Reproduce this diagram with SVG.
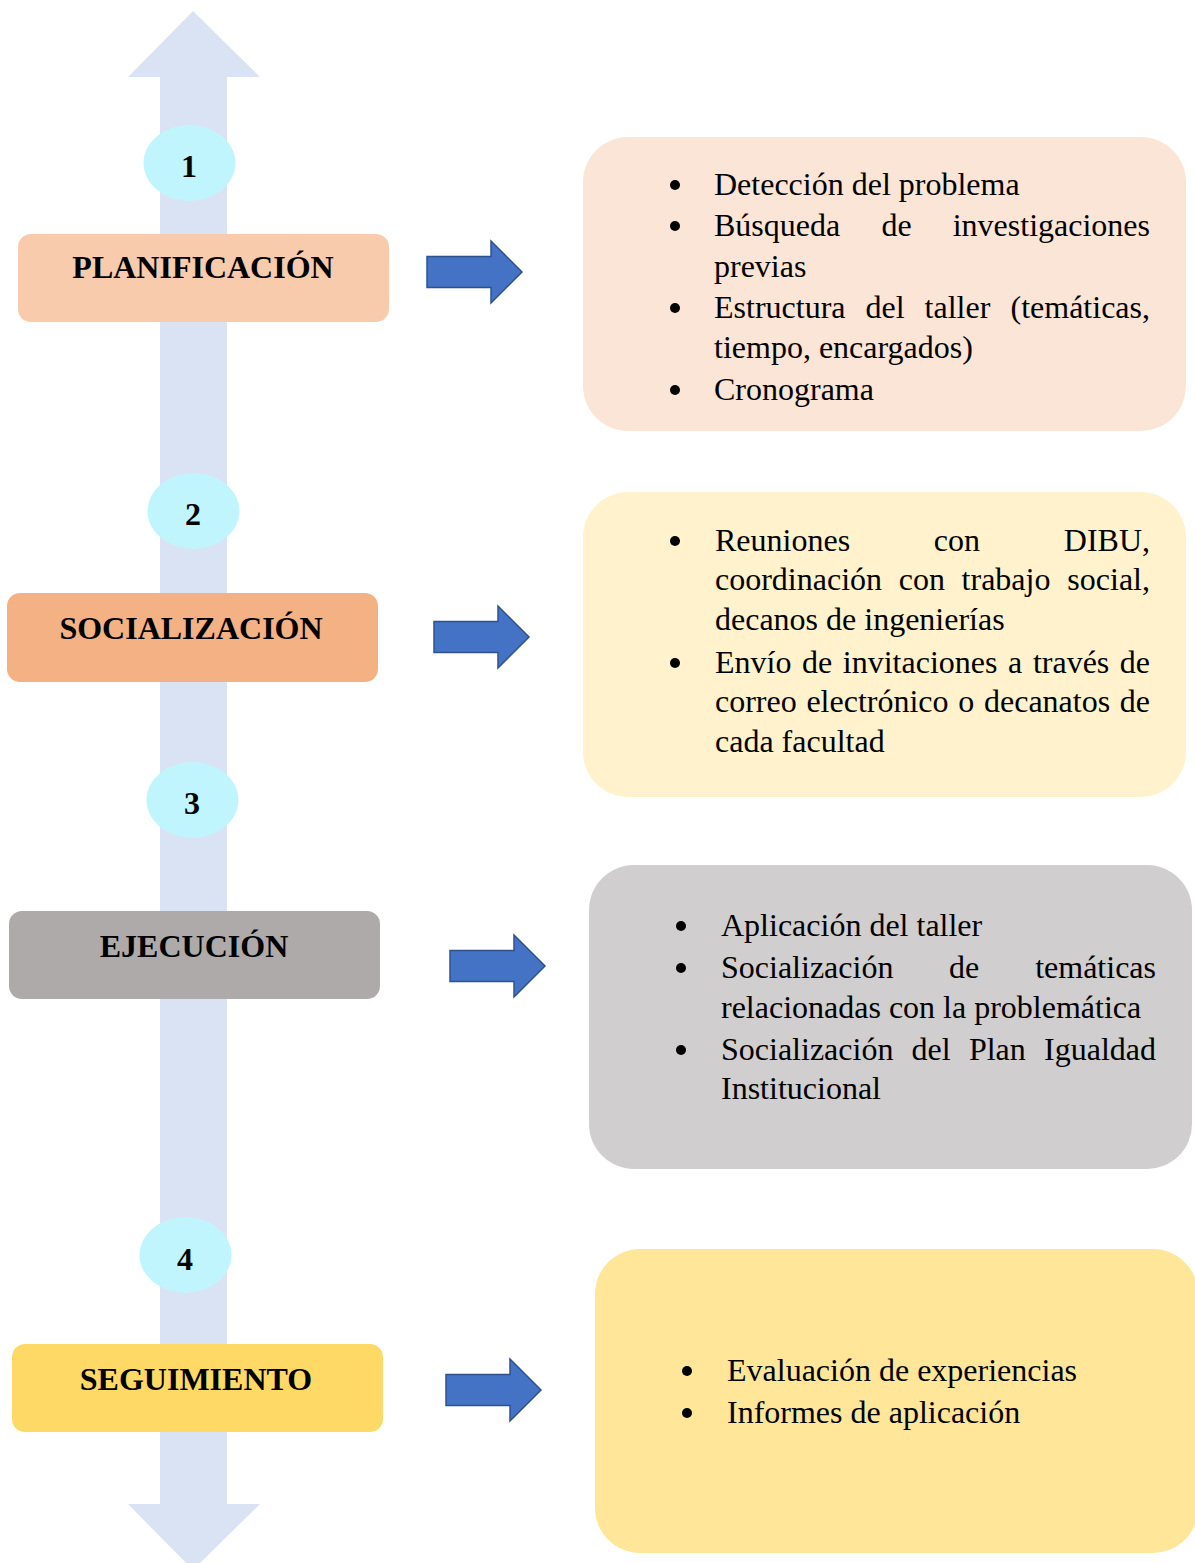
<svg xmlns="http://www.w3.org/2000/svg" width="1195" height="1563" viewBox="0 0 1195 1563">
<style>
.lbl{font-family:"Liberation Serif","Times New Roman",serif;font-weight:bold;font-size:32px;fill:#000;text-anchor:middle}
.num{font-family:"Liberation Serif","Times New Roman",serif;font-weight:bold;font-size:32px;fill:#000;text-anchor:middle}
.t{font-family:"Liberation Serif","Times New Roman",serif;font-size:32px;fill:#000}
.e{text-anchor:end}
.circ{fill:#C1F5FD}
.arr{fill:#4472C4;stroke:#2F528F;stroke-width:1.5}
</style>
<defs>
<path id="barr" d="M0,-15.5 H64 V-31 L95,0 L64,31 V15.5 H0 Z"/>
</defs>
<rect width="1195" height="1563" fill="#fff"/>
<g id="timeline">
<path d="M193,11 L260,77 H227 V1504 H260 L193,1570 L128,1504 H160 V77 H128 Z" fill="#DAE3F3"/>
</g>
<g id="connectors">
<use href="#barr" class="arr" x="427" y="272"/>
<use href="#barr" class="arr" x="434" y="637"/>
<use href="#barr" class="arr" x="450" y="966"/>
<use href="#barr" class="arr" x="446" y="1390"/>
</g>
<g id="n1"><ellipse class="circ" cx="189.5" cy="163" rx="46" ry="38"/><text class="num" x="189" y="177">1</text></g>
<g id="n2"><ellipse class="circ" cx="193.5" cy="511" rx="46" ry="38"/><text class="num" x="193" y="525">2</text></g>
<g id="n3"><ellipse class="circ" cx="192.5" cy="800" rx="46" ry="38"/><text class="num" x="192" y="814">3</text></g>
<g id="n4"><ellipse class="circ" cx="185.5" cy="1255" rx="46" ry="38"/><text class="num" x="185" y="1270">4</text></g>
<g id="planificacion"><rect x="18" y="234" width="371" height="88" rx="13" fill="#F8CBAD"/><text class="lbl" x="203" y="278">PLANIFICACIÓN</text></g>
<g id="socializacion"><rect x="7" y="593" width="371" height="89" rx="13" fill="#F4B183"/><text class="lbl" x="191" y="639">SOCIALIZACIÓN</text></g>
<g id="ejecucion"><rect x="9" y="911" width="371" height="88" rx="13" fill="#AEAAAA"/><text class="lbl" x="194" y="957">EJECUCIÓN</text></g>
<g id="seguimiento"><rect x="12" y="1344" width="371" height="88" rx="13" fill="#FFD966"/><text class="lbl" x="196" y="1390">SEGUIMIENTO</text></g>
<g id="box1">
<rect x="583" y="137" width="603" height="294" rx="45" fill="#FBE5D6"/>
<circle cx="675" cy="185" r="5"/><circle cx="675" cy="226" r="5"/><circle cx="675" cy="308" r="5"/><circle cx="675" cy="390" r="5"/>
<text class="t" x="714" y="195">Detección del problema</text>
<text class="t" x="714" y="236">Búsqueda</text><text class="t" x="881.5" y="236">de</text><text class="t e" x="1150" y="236">investigaciones</text>
<text class="t" x="714" y="277">previas</text>
<text class="t" x="714" y="318">Estructura</text><text class="t" x="865.5" y="318">del</text><text class="t" x="924.6" y="318">taller</text><text class="t e" x="1150" y="318">(temáticas,</text>
<text class="t" x="714" y="358">tiempo, encargados)</text>
<text class="t" x="714" y="400">Cronograma</text>
</g>
<g id="box2">
<rect x="583" y="492" width="603" height="305" rx="45" fill="#FFF2CC"/>
<circle cx="675" cy="541" r="5"/><circle cx="675" cy="663" r="5"/>
<text class="t" x="715" y="551">Reuniones</text><text class="t" x="933.8" y="551">con</text><text class="t e" x="1150" y="551">DIBU,</text>
<text class="t" x="715" y="590">coordinación</text><text class="t" x="898.7" y="590">con</text><text class="t" x="961.6" y="590">trabajo</text><text class="t e" x="1150" y="590">social,</text>
<text class="t" x="715" y="630">decanos de ingenierías</text>
<text class="t" x="715" y="673">Envío</text><text class="t" x="802" y="673">de</text><text class="t" x="842.8" y="673">invitaciones</text><text class="t" x="1008.1" y="673">a</text><text class="t" x="1032.9" y="673">través</text><text class="t e" x="1150" y="673">de</text>
<text class="t" x="715" y="712">correo</text><text class="t" x="806.4" y="712">electrónico</text><text class="t" x="958.3" y="712">o</text><text class="t" x="984" y="712">decanatos</text><text class="t e" x="1150" y="712">de</text>
<text class="t" x="715" y="752">cada facultad</text>
</g>
<g id="box3">
<rect x="589" y="865" width="603" height="304" rx="45" fill="#D0CECE"/>
<circle cx="681" cy="926" r="5"/><circle cx="681" cy="968" r="5"/><circle cx="681" cy="1050" r="5"/>
<text class="t" x="721" y="936">Aplicación del taller</text>
<text class="t" x="721" y="978">Socialización</text><text class="t" x="949.1" y="978">de</text><text class="t e" x="1156" y="978">temáticas</text>
<text class="t" x="721" y="1018">relacionadas con la problemática</text>
<text class="t" x="721" y="1060">Socialización</text><text class="t" x="911.6" y="1060">del</text><text class="t" x="968.9" y="1060">Plan</text><text class="t e" x="1156" y="1060">Igualdad</text>
<text class="t" x="721" y="1099">Institucional</text>
</g>
<g id="box4">
<rect x="595" y="1249" width="603" height="304" rx="45" fill="#FFE699"/>
<circle cx="687" cy="1371" r="5"/><circle cx="687" cy="1413" r="5"/>
<text class="t" x="727" y="1381">Evaluación de experiencias</text>
<text class="t" x="727" y="1423">Informes de aplicación</text>
</g>
</svg>
